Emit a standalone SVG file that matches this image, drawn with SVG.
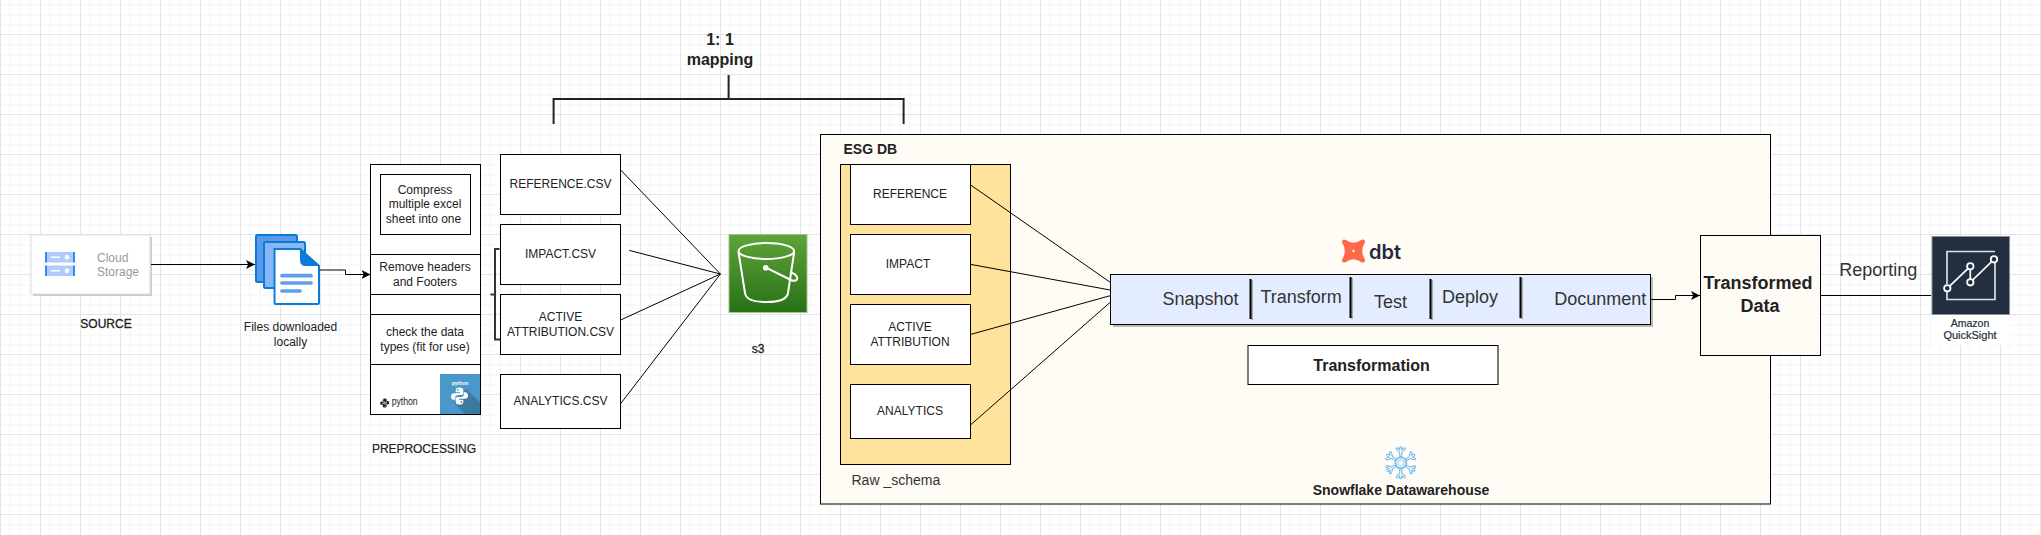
<svg xmlns="http://www.w3.org/2000/svg" xmlns:xlink="http://www.w3.org/1999/xlink" width="2041" height="535" viewBox="0 0 2041 535">
<style>
text{font-family:"Liberation Sans",Arial,sans-serif;fill:#222;font-size:12px}
.c{text-anchor:middle}
.b{font-weight:bold}
.box{fill:#fff;stroke:#000;stroke-width:1}
.ln{fill:none;stroke:#000;stroke-width:1}
.br{fill:none;stroke:#222;stroke-width:2}
.div{stroke:#000;stroke-width:2}
.big{font-size:18px;fill:#333}
</style>
<defs>
<pattern id="grid" patternUnits="userSpaceOnUse" x="0" y="-5" width="40" height="40">
<path d="M10 0V40M20 0V40M30 0V40M0 10H40M0 20H40M0 30H40" stroke="#f4f4f4" stroke-width="1" fill="none"/>
<path d="M.5 0V40M0 39.500H40" stroke="#e4e4e4" stroke-width="1" fill="none"/>
</pattern>
<marker id="arrow" markerUnits="userSpaceOnUse" markerWidth="10" markerHeight="10" refX="9" refY="5" orient="auto">
<path d="M0 .5L9 5L0 9.500L2.200 5Z" fill="#000"/>
</marker>
<linearGradient id="s3g" x1="0" y1="0" x2="0" y2="1"><stop offset="0" stop-color="#60a33a"/><stop offset="1" stop-color="#277116"/></linearGradient>
<linearGradient id="pyShadow" x1="0" y1="0" x2="1" y2="1"><stop offset="0" stop-color="#3f7fa8"/><stop offset="1" stop-color="#3a769c"/></linearGradient>
<g id="pysnake">
<path fill-rule="evenodd" d="M10 1C7 1 6 2 6 4V6H10.500V7H4C2 7 1 8.500 1 10.500C1 12.500 2 14 4 14H5.500V11.500C5.500 10 7 9 8.500 9H12C13.200 9 14 8.200 14 7V4C14 2 12.500 1 10 1ZM8 2.700A.9.9 0 1 1 8 4.500A.9.9 0 1 1 8 2.700Z"/>
<path fill-rule="evenodd" transform="rotate(180 10 10)" d="M10 1C7 1 6 2 6 4V6H10.500V7H4C2 7 1 8.500 1 10.500C1 12.500 2 14 4 14H5.500V11.500C5.500 10 7 9 8.500 9H12C13.200 9 14 8.200 14 7V4C14 2 12.500 1 10 1ZM8 2.700A.9.9 0 1 1 8 4.500A.9.9 0 1 1 8 2.700Z"/>
</g>
<path id="arm" d="M0 -7V-15M0 -10.500L-3.500 -14M0 -10.500L3.500 -14" fill="none"/>
</defs>

<rect width="2041" height="535" fill="#fff"/>
<rect width="2041" height="535" fill="url(#grid)"/>

<g id="esg-db-container">
<rect x="820.500" y="134.500" width="950" height="369.500" fill="#fffcf6" stroke="#000"/>
<text x="843.500" y="153.500" class="b" style="font-size:14px">ESG DB</text>
<text x="851.500" y="484.500" style="font-size:14px;fill:#333">Raw _schema</text>
</g>

<g id="raw-schema">
<rect x="840.500" y="164.500" width="170" height="300" fill="#ffe29c" stroke="#000"/>
</g>

<g id="source">
<rect x="33" y="237" width="119" height="59" fill="#ccc"/>
<rect x="31" y="235" width="119" height="59" fill="#fff" stroke="#ddd"/>
<rect x="45" y="252" width="30" height="10.500" fill="#aecbfa"/>
<rect x="45" y="265.500" width="30" height="10.500" fill="#aecbfa"/>
<path d="M46 252V262.500M74 252V262.500M46 265.500V276M74 265.500V276" stroke="#4285f4" stroke-width="2"/>
<path d="M51 257.300H60M51 270.800H60" stroke="#fff" stroke-width="1.500"/>
<circle cx="67" cy="257.300" r="2.300" fill="#fff"/>
<circle cx="67" cy="270.800" r="2.300" fill="#fff"/>
<text x="97" y="261.700" style="fill:#999">Cloud</text>
<text x="97" y="276" style="fill:#999">Storage</text>
<text x="106" y="328" class="c" stroke="#222" stroke-width=".3">SOURCE</text>
</g>

<g id="files">
<rect x="256" y="235" width="41" height="47" rx="1.500" fill="#5b9ae8" stroke="#0a7bd8" stroke-width="2"/>
<rect x="264" y="242" width="41" height="46" rx="1.500" fill="#86b6f5" stroke="#0a7bd8" stroke-width="2"/>
<path d="M274.500 249H300L319 266V302.500Q319 304 317.500 304H275.500Q274.500 304 274.500 302.500Z" fill="#fff" stroke="#0a7bd8" stroke-width="2"/>
<path d="M300 248L320 266H306Q300 266 300 260Z" fill="#0a7bd8"/>
<path d="M282 275.700H311M282 283H311M282 291H300" stroke="#5e9fe8" stroke-width="3.700" stroke-linecap="round" fill="none"/>
<text x="290.500" y="331" class="c">Files downloaded</text>
<text x="290.500" y="346" class="c">locally</text>
</g>

<g id="preprocessing">
<rect x="370.500" y="164.500" width="110" height="250" class="box"/>
<path d="M370.500 254.500H480.500M370.500 294.500H480.500M370.500 314.500H480.500M370.500 364.500H480.500" class="ln"/>
<rect x="380.500" y="174.500" width="90" height="60" class="box"/>
<text x="425" y="194" class="c">Compress</text>
<text x="425" y="208.300" class="c">multiple excel</text>
<text x="423.500" y="222.700" class="c">sheet into one</text>
<text x="425" y="271" class="c">Remove headers</text>
<text x="425" y="286" class="c">and Footers</text>
<text x="425" y="336" class="c">check the data</text>
<text x="425" y="351" class="c">types (fit for use)</text>
<use xlink:href="#pysnake" href="#pysnake" transform="translate(379.700 398) scale(.5)" fill="#222"/>
<text x="391.700" y="405.300" textLength="26" lengthAdjust="spacingAndGlyphs" style="font-size:10px">python</text>
<rect x="440" y="374" width="40" height="40" fill="#4a97c9"/>
<path d="M454 403L466 389L480 402V414H465Z" fill="url(#pyShadow)"/>
<text x="460" y="385" class="c b" style="font-size:5px;fill:#fff">python</text>
<use xlink:href="#pysnake" href="#pysnake" transform="translate(450 386.500) scale(.95)" fill="#fff"/>
<text x="424" y="453" class="c" textLength="104" stroke="#222" stroke-width=".2">PREPROCESSING</text>
</g>

<g id="mapping">
<text x="720" y="45" class="c b" style="font-size:16px">1: 1</text>
<text x="720" y="65" class="c b" style="font-size:16px">mapping</text>
</g>

<g id="csv-reference"><rect x="500.500" y="154.500" width="120" height="60" class="box"/><text x="560.500" y="187.600" class="c">REFERENCE.CSV</text></g>
<g id="csv-impact"><rect x="500.500" y="224.500" width="120" height="60" class="box"/><text x="560.500" y="257.600" class="c">IMPACT.CSV</text></g>
<g id="csv-active"><rect x="500.500" y="294.500" width="120" height="60" class="box"/><text x="560.500" y="320.700" class="c">ACTIVE</text><text x="560.500" y="335.700" class="c">ATTRIBUTION.CSV</text></g>
<g id="csv-analytics"><rect x="500.500" y="374.500" width="120" height="54" class="box"/><text x="560.500" y="404.600" class="c">ANALYTICS.CSV</text></g>

<g id="s3">
<rect x="729" y="234.500" width="78" height="78" fill="url(#s3g)" stroke="#9cc58a" stroke-width="1"/>
<g fill="none" stroke="#fff" stroke-width="2">
<ellipse cx="766.300" cy="251" rx="27.800" ry="8"/>
<path d="M738.500 252L745 293Q746 302 766.300 302Q786.500 302 788 293L794.200 252"/>
<path d="M766 267.700L791 280C795 282 798 280 797 277C796 274 793 273 790 272"/>
</g>
<circle cx="765.700" cy="267.700" r="2.800" fill="#fff"/>
<text x="758" y="352.800" class="c" style="font-size:12px" stroke="#222" stroke-width=".3">s3</text>
</g>

<g id="db-reference"><rect x="850.500" y="164.500" width="120" height="60" class="box"/><text x="910" y="197.900" class="c">REFERENCE</text></g>
<g id="db-impact"><rect x="850.500" y="234.500" width="120" height="60" class="box"/><text x="908" y="267.800" class="c">IMPACT</text></g>
<g id="db-active"><rect x="850.500" y="304.500" width="120" height="60" class="box"/><text x="910" y="331" class="c">ACTIVE</text><text x="910" y="346" class="c">ATTRIBUTION</text></g>
<g id="db-analytics"><rect x="850.500" y="384.500" width="120" height="54" class="box"/><text x="910" y="414.900" class="c">ANALYTICS</text></g>

<g id="dbt">
<path transform="translate(1353.500 251)" d="M-7.500 -11Q0 -5.500 7.500 -11Q11.500 -13 11.500 -8.500Q6 0 11.500 8.500Q11.500 13 7.500 11Q0 5.500 -7.500 11Q-11.500 13 -11.500 8.500Q-6 0 -11.500 -8.500Q-11.500 -13 -7.500 -11Z" fill="#ff694a"/>
<circle cx="1353.500" cy="251" r="1.200" fill="#fffcf6"/>
<text x="1369" y="259" style="font-family:Inter,'Liberation Sans',sans-serif;font-weight:600;font-size:20px;fill:#262a38">dbt</text>
</g>

<g id="dbt-steps">
<rect x="1113" y="277" width="540" height="50" fill="#bbb"/>
<rect x="1110.500" y="274.500" width="540" height="50" fill="#e4ecff" stroke="#000"/>
<path d="M1252 280V320M1352 278V319M1432 280V320M1522 278V319" stroke="#aaa" stroke-width="2"/>
<path d="M1250.500 279V319M1350.500 277V318M1430.500 279V319M1520.500 277V318" class="div"/>
<text x="1162.400" y="305" class="big">Snapshot</text>
<text x="1260.400" y="303.300" class="big">Transform</text>
<text x="1373.900" y="307.700" class="big">Test</text>
<text x="1442" y="303.300" class="big">Deploy</text>
<text x="1554.300" y="305" class="big">Docunment</text>
</g>

<g id="transformation">
<rect x="1248" y="345.500" width="250" height="39" fill="#fff" stroke="#000"/>
<path d="M1498 345.500V384.500" stroke="#777"/>
<text x="1371.500" y="370.700" class="c b" style="font-size:16px">Transformation</text>
</g>

<g id="snowflake">
<g transform="translate(1400.800 462.800)">
<g stroke="#62b5ec" stroke-width="3" stroke-linecap="round">
<use xlink:href="#arm" href="#arm"/><use xlink:href="#arm" href="#arm" transform="rotate(60)"/><use xlink:href="#arm" href="#arm" transform="rotate(120)"/><use xlink:href="#arm" href="#arm" transform="rotate(180)"/><use xlink:href="#arm" href="#arm" transform="rotate(240)"/><use xlink:href="#arm" href="#arm" transform="rotate(300)"/>
</g>
<g stroke="#fffcf6" stroke-width="1.100" stroke-linecap="round">
<use xlink:href="#arm" href="#arm"/><use xlink:href="#arm" href="#arm" transform="rotate(60)"/><use xlink:href="#arm" href="#arm" transform="rotate(120)"/><use xlink:href="#arm" href="#arm" transform="rotate(180)"/><use xlink:href="#arm" href="#arm" transform="rotate(240)"/><use xlink:href="#arm" href="#arm" transform="rotate(300)"/>
</g>
<circle r="5.500" fill="none" stroke="#7cc4ef" stroke-width="2"/>
<circle r="3" fill="none" stroke="#a5d6f4" stroke-width="1.200"/>
</g>
<text x="1401" y="495" class="c b" style="font-size:14px">Snowflake Datawarehouse</text>
</g>

<g id="transformed-data">
<rect x="1700.500" y="235.500" width="120" height="120" fill="#fffcf6" stroke="#000"/>
<text x="1758" y="289.300" class="c b" style="font-size:18px">Transformed</text>
<text x="1760" y="311.700" class="c b" style="font-size:18px">Data</text>
</g>

<g id="quicksight">
<rect x="1931" y="314" width="79" height="31" fill="#fff"/>
<rect x="1932" y="236.500" width="77.500" height="78" fill="#232f3e" stroke="#8a919a"/>
<path d="M1947 284V251.500H1995M1995 262V299.500H1947V292" fill="none" stroke="#fff" stroke-width="1.700" opacity=".85"/>
<path d="M1947.300 288.300L1970.300 266.300V282.300L1994 259.300" fill="none" stroke="#fff" stroke-width="1.700"/>
<g fill="#232f3e" stroke="#fff" stroke-width="1.800"><circle cx="1947.300" cy="288.300" r="3.200"/><circle cx="1970.300" cy="266.300" r="3.200"/><circle cx="1970.300" cy="282.300" r="3.200"/><circle cx="1994" cy="259.300" r="3.200"/></g>
<text x="1970" y="326.700" class="c" style="font-size:10.500px;fill:#232f3e" stroke="#232f3e" stroke-width=".2">Amazon</text>
<text x="1970" y="339" class="c" style="font-size:11px;fill:#232f3e" stroke="#232f3e" stroke-width=".2">QuickSight</text>
</g>

<g id="connectors">
<path d="M151 264.500H255" class="ln" marker-end="url(#arrow)"/>
<path d="M320 270H345.500V274.500H370.500" class="ln" marker-end="url(#arrow)"/>
<path d="M499.500 249H495V339.500H500M495 294.500H490.500" fill="none" stroke="#333" stroke-width="2"/>
<path d="M620.700 170L720.400 274M629.300 250.400L720.400 274M620.700 320L720.400 274M620.700 403.600L720.400 274" class="ln"/>
<path d="M728.600 75V99M553.600 124V99H903.600V124" class="br"/>
<path d="M970.700 185L1110.200 282.300M970.700 264.400L1110.200 290M970.700 334.400L1110.200 295.700M970.700 424.800L1110.200 302.300" class="ln"/>
<path d="M1651 299.500H1675.500V295.500H1700" class="ln" marker-end="url(#arrow)"/>
<path d="M1820.500 295.500H1931" class="ln" stroke="#222"/>
<text x="1839.300" y="276" class="big">Reporting</text>
</g>
</svg>
